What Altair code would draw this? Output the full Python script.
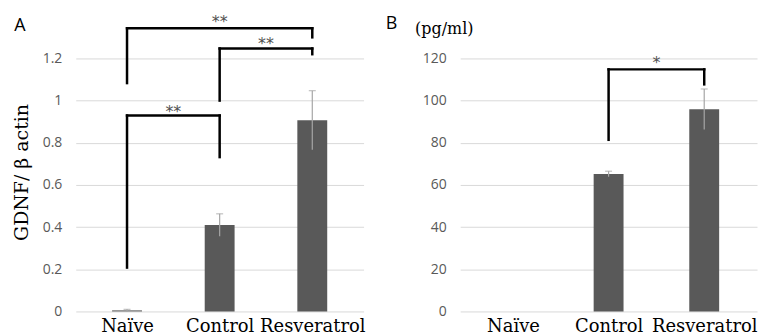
import json
import altair as alt
import pandas as pd

# ---------------- data ----------------
groups = ["Naïve", "Control", "Resveratrol"]

# Panel A: GDNF / beta-actin (relative expression)
a_groups = ["Naïve", "Control", "Resveratrol"]
a_mean = [0.005, 0.41, 0.907]
a_err = [0.005, 0.053, 0.14]

# Panel B: GDNF protein (pg/ml)
b_groups = ["Control", "Resveratrol"]
b_mean = [65.2, 95.9]
b_err = [1.3, 9.6]

# significance brackets: left group, right group, left foot, right foot, top, label, label position
a_br_left = ["Naïve", "Control", "Naïve"]
a_br_right = ["Resveratrol", "Resveratrol", "Control"]
a_br_left_foot = [1.083, 1.0, 0.208]
a_br_right_foot = [1.30, 1.22, 0.732]
a_br_top = [1.343, 1.247, 0.929]
a_br_label = ["**", "**", "**"]
a_br_label_y = [1.396, 1.294, 0.971]

b_br_left = ["Control"]
b_br_right = ["Resveratrol"]
b_br_left_foot = [81.4]
b_br_right_foot = [107.7]
b_br_top = [114.8]
b_br_label = ["*"]
b_br_label_y = [120.1]

a_ticks = [0, 0.2, 0.4, 0.6, 0.8, 1.0, 1.2]
b_ticks = [0, 20, 40, 60, 80, 100, 120]
a_title = "GDNF/ β actin"
panel_letters = ["A", "B"]
unit_label = "(pg/ml)"

# ---------------- helpers ----------------
SERIF = "DejaVu Serif"
SANS = "Open Sans"
BAR = "#595959"
label_expr = "%s[datum.value]" % json.dumps(groups)


def bar_table(gs, means, errs):
    return pd.DataFrame({
        "pos": [groups.index(g) for g in gs],
        "val": means,
        "lo": [m - e for m, e in zip(means, errs)],
        "hi": [m + e for m, e in zip(means, errs)],
    })


def bracket_table(lefts, rights, lf, rf, tops):
    rows = []
    for l, r, a, b, t in zip(lefts, rights, lf, rf, tops):
        li, ri = groups.index(l), groups.index(r)
        rows.append({"pos": li, "pos2": li, "val": a, "val2": t})
        rows.append({"pos": li, "pos2": ri, "val": t, "val2": t})
        rows.append({"pos": ri, "pos2": ri, "val": b, "val2": t})
    return pd.DataFrame(rows)


def star_table(lefts, rights, labels, ys):
    return pd.DataFrame({
        "pos": [(groups.index(l) + groups.index(r)) / 2 for l, r in zip(lefts, rights)],
        "val": ys,
        "label": labels,
    })


def panel(width, ymax, ticks, yfmt, ytitle, bars, brackets, stars, letter, letter_x, letter_y,
          extra=None):
    xs = alt.Scale(domain=[-0.5, 2.5], nice=False, zero=False)
    ys = alt.Scale(domain=[0, ymax], nice=False)
    xaxis = alt.Axis(values=[0, 1, 2], labelExpr=label_expr, grid=False, domain=False,
                     ticks=False, tickSize=0, labelFont=SERIF, labelFontSize=18,
                     labelColor="black", labelPadding=6, title=None)
    yaxis_kw = dict(values=ticks, format=yfmt, grid=True, gridColor="#d9d9d9", gridWidth=1,
                    domain=False, ticks=False, tickSize=0, labelFont=SANS, labelFontSize=14,
                    labelColor="#595959", labelPadding=14)
    if ytitle:
        yaxis = alt.Axis(title=ytitle, titleFont=SERIF, titleFontSize=19,
                         titleFontWeight="normal", titleColor="black", titleAngle=-90,
                         titleX=-54, titleY=164, titleAlign="center",
                         titleBaseline="middle", **yaxis_kw)
    else:
        yaxis = alt.Axis(title=None, **yaxis_kw)

    def X(field="pos"):
        return alt.X(f"{field}:Q", scale=xs, axis=xaxis, title=None)

    def Y(field="val"):
        return alt.Y(f"{field}:Q", scale=ys, axis=yaxis, title=ytitle if ytitle else None)

    b = alt.Chart(bars).mark_bar(size=30, color=BAR).encode(x=X(), y=Y())
    err = alt.Chart(bars).mark_rule(color="#a6a6a6", strokeWidth=1.2).encode(
        x=X(), y=Y("lo"), y2="hi:Q")
    cap = alt.Chart(bars).mark_tick(orient="horizontal", size=7, thickness=1.2,
                                    color="#a6a6a6").encode(x=X(), y=Y("hi"))
    br = alt.Chart(brackets).mark_rule(color="black", strokeWidth=2.5,
                                       strokeCap="square").encode(
        x=X(), x2="pos2:Q", y=Y(), y2="val2:Q")
    st = alt.Chart(stars).mark_text(font="DejaVu Sans", fontSize=16, color="#505050",
                                    baseline="middle", dy=5).encode(
        x=X(), y=Y(), text="label:N")
    lt = alt.Chart(pd.DataFrame({"t": [letter]})).mark_text(
        font=SANS, fontSize=18, color="black", align="center", baseline="middle").encode(
        x=alt.value(letter_x), y=alt.value(letter_y), text="t:N")
    layers = [b, err, cap, br, st, lt]
    if extra is not None:
        layers.append(extra)
    return alt.layer(*layers).properties(width=width, height=304)


unit = alt.Chart(pd.DataFrame({"t": [unit_label]})).mark_text(
    font=SERIF, fontSize=16, color="black", align="center", baseline="middle").encode(
    x=alt.value(-16), y=alt.value(20), text="t:N")

pa = panel(289, 1.436, a_ticks, "~g", a_title,
           bar_table(a_groups, a_mean, a_err),
           bracket_table(a_br_left, a_br_right, a_br_left_foot, a_br_right_foot, a_br_top),
           star_table(a_br_left, a_br_right, a_br_label, a_br_label_y),
           panel_letters[0], -56, 17)

pb = panel(298, 143.6, b_ticks, "d", None,
           bar_table(b_groups, b_mean, b_err),
           bracket_table(b_br_left, b_br_right, b_br_left_foot, b_br_right_foot, b_br_top),
           star_table(b_br_left, b_br_right, b_br_label, b_br_label_y),
           panel_letters[1], -69, 15, extra=unit)

chart = alt.hconcat(pa, pb, spacing=97, bounds="flush").properties(
    padding={"left": 5, "top": 0, "right": 0, "bottom": 0},
    background="white",
).configure_view(stroke=None)

chart.save("out.html", embed_options={"renderer": "svg", "actions": False})
